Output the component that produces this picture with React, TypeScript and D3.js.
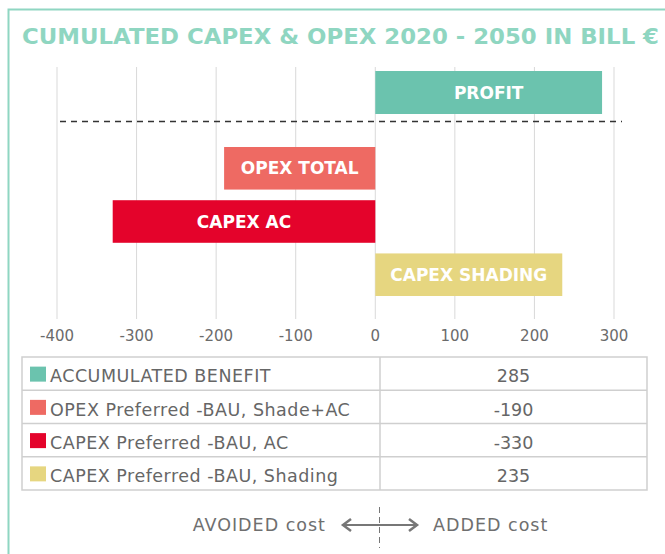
import React, { useEffect, useRef } from 'react';
import * as d3 from 'd3';

const barNames = ['PROFIT', 'OPEX TOTAL', 'CAPEX AC', 'CAPEX SHADING'];
const barValues = [285, -190, -330, 235];
const barColors = ['#6bc3ae', '#ee6a63', '#e4032b', '#e6d680'];
const legendNames = [
  'ACCUMULATED BENEFIT',
  'OPEX Preferred -BAU, Shade+AC',
  'CAPEX Preferred -BAU, AC',
  'CAPEX Preferred -BAU, Shading',
];
const xTicks = [-400, -300, -200, -100, 0, 100, 200, 300];

const FONT = "'DejaVu Sans', sans-serif";

export default function App() {
  const ref = useRef<SVGSVGElement | null>(null);

  useEffect(() => {
    const svg = d3.select(ref.current);
    svg.selectAll('*').remove();

    // frame
    svg.append('path')
      .attr('d', 'M8.5,554 L8.5,9.5 L665,9.5')
      .attr('fill', 'none')
      .attr('stroke', '#8fd6c2')
      .attr('stroke-width', 2);

    // title
    svg.append('text')
      .attr('x', 22).attr('y', 44)
      .attr('font-family', FONT)
      .attr('font-weight', 'bold')
      .attr('font-size', 21)
      .attr('fill', '#8fd6c1')
      .attr('textLength', 637)
      .attr('lengthAdjust', 'spacingAndGlyphs')
      .text('CUMULATED CAPEX & OPEX 2020 - 2050 IN BILL €');

    const x = d3.scaleLinear().domain([-400, 300]).range([57, 614]);

    // profit on its own row, the cost bars below the dashed line
    const yTop = d3.scaleBand().domain(barNames.slice(0, 1)).range([71, 114]).padding(0);
    const yBottom = d3.scaleBand().domain(barNames.slice(1)).range([147, 296]).paddingInner(0.2).paddingOuter(0);
    const yPos = (n: string) => (n === 'PROFIT' ? yTop(n)! : yBottom(n)!);
    const bw = (n: string) => (n === 'PROFIT' ? yTop.bandwidth() : yBottom.bandwidth());

    // grid
    svg.append('g').selectAll('line')
      .data(xTicks)
      .join('line')
      .attr('x1', d => x(d)).attr('x2', d => x(d))
      .attr('y1', 67).attr('y2', 319)
      .attr('stroke', '#d9d9d9')
      .attr('stroke-width', 1);

    svg.append('g').selectAll('text')
      .data(xTicks)
      .join('text')
      .attr('x', d => x(d)).attr('y', 341)
      .attr('text-anchor', 'middle')
      .attr('font-family', FONT)
      .attr('font-size', 15)
      .attr('fill', '#6b6b6b')
      .text(d => d);

    // dashed separator
    svg.append('line')
      .attr('x1', 60).attr('x2', 622)
      .attr('y1', 121.5).attr('y2', 121.5)
      .attr('stroke', '#333')
      .attr('stroke-width', 1.3)
      .attr('stroke-dasharray', '6,5');

    const bars = svg.append('g');
    barNames.forEach((n, i) => {
      const v = barValues[i];
      bars.append('rect')
        .attr('x', x(Math.min(0, v)))
        .attr('y', yPos(n))
        .attr('width', Math.abs(x(v) - x(0)))
        .attr('height', bw(n))
        .attr('fill', barColors[i]);
      bars.append('text')
        .attr('x', (x(v) + x(0)) / 2)
        .attr('y', yPos(n) + bw(n) / 2)
        .attr('dy', '0.36em')
        .attr('text-anchor', 'middle')
        .attr('font-family', FONT)
        .attr('font-weight', 'bold')
        .attr('font-size', 17)
        .attr('fill', '#fff')
        .text(n);
    });

    // data table
    const tLeft = 22, tRight = 647, tMid = 380;
    const rowY = d3.scaleBand().domain(legendNames).range([357, 490]);
    const table = svg.append('g');
    table.append('rect')
      .attr('x', tLeft).attr('y', 357)
      .attr('width', tRight - tLeft).attr('height', 133)
      .attr('fill', 'none').attr('stroke', '#cfcfcf').attr('stroke-width', 1.5);
    table.append('line')
      .attr('x1', tMid).attr('x2', tMid).attr('y1', 357).attr('y2', 490)
      .attr('stroke', '#cfcfcf').attr('stroke-width', 1.5);
    legendNames.forEach((n, i) => {
      const y0 = rowY(n)!;
      if (i > 0) {
        table.append('line')
          .attr('x1', tLeft).attr('x2', tRight).attr('y1', y0).attr('y2', y0)
          .attr('stroke', '#cfcfcf').attr('stroke-width', 1.5);
      }
      const cy = y0 + rowY.bandwidth() / 2;
      table.append('rect')
        .attr('x', 30).attr('y', cy - 7)
        .attr('width', 16).attr('height', 15)
        .attr('fill', barColors[i]);
      table.append('text')
        .attr('x', 50).attr('y', cy).attr('dy', '0.5em')
        .attr('font-family', FONT).attr('font-size', 17.5)
        .attr('letter-spacing', 0.5)
        .attr('fill', '#666')
        .text(n);
      table.append('text')
        .attr('x', (tMid + tRight) / 2).attr('y', cy).attr('dy', '0.5em')
        .attr('text-anchor', 'middle')
        .attr('font-family', FONT).attr('font-size', 17.5)
        .attr('fill', '#666')
        .text(barValues[i]);
    });

    // footer: avoided / added
    const foot = svg.append('g');
    foot.append('line')
      .attr('x1', 379.5).attr('x2', 379.5).attr('y1', 507).attr('y2', 548)
      .attr('stroke', '#777').attr('stroke-width', 1)
      .attr('stroke-dasharray', '6,4');
    foot.append('line')
      .attr('x1', 343).attr('x2', 417).attr('y1', 525).attr('y2', 525)
      .attr('stroke', '#777').attr('stroke-width', 2);
    foot.append('path')
      .attr('d', 'M351,519 L343,525 L351,531 M409,519 L417,525 L409,531')
      .attr('fill', 'none').attr('stroke', '#777').attr('stroke-width', 2.5);
    foot.append('text')
      .attr('x', 326).attr('y', 525).attr('dy', '0.36em')
      .attr('text-anchor', 'end')
      .attr('font-family', FONT).attr('font-size', 17.5)
      .attr('letter-spacing', 1)
      .attr('fill', '#6f6f6f')
      .text('AVOIDED cost');
    foot.append('text')
      .attr('x', 433).attr('y', 525).attr('dy', '0.36em')
      .attr('font-family', FONT).attr('font-size', 17.5)
      .attr('letter-spacing', 1)
      .attr('fill', '#6f6f6f')
      .text('ADDED cost');
  }, []);

  return (
    <svg
      ref={ref}
      width={665}
      height={554}
      style={{ position: 'absolute', left: 0, top: 0, background: '#fff' }}
    />
  );
}
